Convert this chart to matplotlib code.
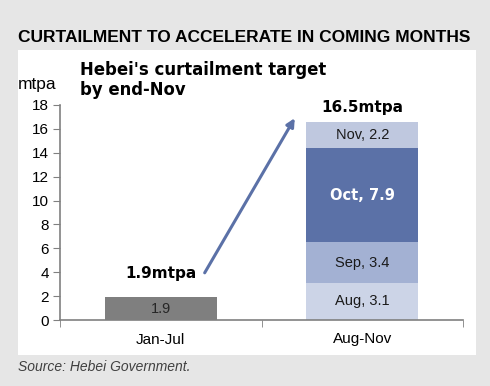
import matplotlib
matplotlib.use("Agg")
import matplotlib.pyplot as plt
from matplotlib.patches import Rectangle

categories = ["Jan-Jul", "Aug-Nov"]
jan_jul_value = 1.9
months = ["Aug", "Sep", "Oct", "Nov"]
month_values = [3.1, 3.4, 7.9, 2.2]
total_target = 16.5
month_colors = ["#ccd4e7", "#a3b1d3", "#5b71a7", "#bfc8df"]
yticks = [0, 2, 4, 6, 8, 10, 12, 14, 16, 18]

plt.rcParams['font.family'] = ['Liberation Sans', 'DejaVu Sans']

fig = plt.figure(figsize=(4.9, 3.86), dpi=100, facecolor="#e6e6e6")
W, H = 490, 386
fig.patches.append(Rectangle((18 / W, 1 - 355 / H), (476 - 18) / W, (355 - 50) / H,
                             transform=fig.transFigure, facecolor="white",
                             edgecolor="none", zorder=-5))

ax = fig.add_axes([60 / W, 1 - 320 / H, (463 - 60) / W, (320 - 105) / H])
ax.set_facecolor("none")
ax.set_zorder(2)

bw = 0.555
ax.bar(0, jan_jul_value, width=bw, color="#7f7f7f", zorder=2)
ax.text(0, jan_jul_value / 2, f"{jan_jul_value}", ha="center", va="center",
        fontsize=10.5, color="#262626", zorder=3)

bottom = 0
for m, v, c in zip(months, month_values, month_colors):
    ax.bar(1, v, width=bw, bottom=bottom, color=c, zorder=2)
    if m == "Oct":
        ax.text(1, bottom + v / 2, f"{m}, {v}", ha="center", va="center",
                fontsize=10.5, color="white", fontweight="bold",
                family="DejaVu Sans", zorder=3)
    else:
        ax.text(1, bottom + v / 2, f"{m}, {v}", ha="center", va="center",
                fontsize=10.5, color="#1a1a1a", zorder=3)
    bottom += v

ax.text(0, 3.9, f"{jan_jul_value}mtpa", ha="center", va="center",
        fontsize=11, fontweight="bold", family="DejaVu Sans")
ax.text(1, bottom + 1.2, f"{total_target}mtpa", ha="center", va="center",
        fontsize=11, fontweight="bold", family="DejaVu Sans")

ax.annotate("", xy=(0.665, 16.9), xytext=(0.218, 3.95),
            arrowprops=dict(arrowstyle="-|>", color="#5b71a7", lw=2.2,
                            mutation_scale=12, shrinkA=0, shrinkB=0))

ax.set_xlim(-0.5, 1.5)
ax.set_ylim(0, 18)
ax.set_yticks(yticks)
ax.set_yticklabels([str(t) for t in yticks], fontsize=11)
ax.set_xticks([0, 1])
ax.set_xticklabels(categories, fontsize=11)
ax.set_xticks([-0.5, 0.5, 1.5], minor=True)
ax.tick_params(axis="x", which="major", length=0, pad=9)
ax.tick_params(axis="x", which="minor", length=5, color="#808080", direction="out")
ax.tick_params(axis="y", length=5, color="#808080", direction="out", pad=3)
for s in ["top", "right"]:
    ax.spines[s].set_visible(False)
for s in ["left", "bottom"]:
    ax.spines[s].set_color("#808080")
    ax.spines[s].set_linewidth(1.2)

fig.text(18 / W, 1 - 84 / H, "mtpa", ha="left", va="center", fontsize=12.5)
fig.text(80 / W, 1 - 80 / H, "Hebei's curtailment target\nby end-Nov", ha="left",
         va="center", fontsize=11.9, fontweight="bold", family="DejaVu Sans",
         linespacing=1.2)
fig.text(18 / W, 1 - 38 / H, "CURTAILMENT TO ACCELERATE IN COMING MONTHS",
         ha="left", va="center", fontsize=12.5, fontweight="bold")
fig.text(18 / W, 1 - 367 / H, "Source: Hebei Government.", ha="left", va="center",
         fontsize=10, style="italic", color="#404040")

fig.savefig("out.png", dpi=100, facecolor=fig.get_facecolor())
